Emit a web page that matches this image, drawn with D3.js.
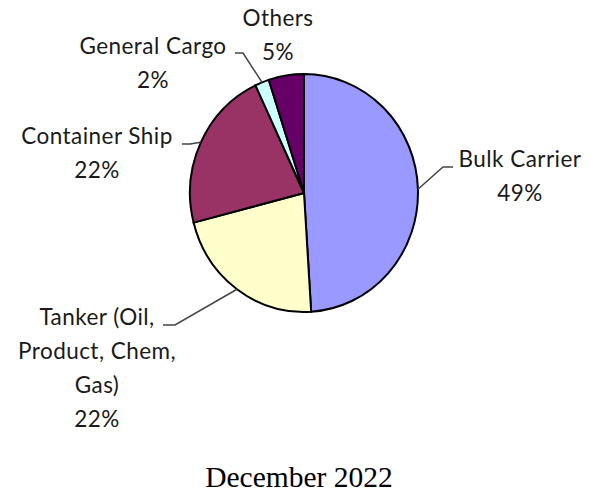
<!DOCTYPE html>
<html>
<head>
<meta charset="utf-8">
<script src="https://cdn.jsdelivr.net/npm/d3@7"></script>
<style>
  body { margin: 0; background: #fff; }
  .lbl { font-family: Lato, "Open Sans", sans-serif; font-size: 22.5px; letter-spacing: 0.45px; fill: #1a1a1a; }
  .title { font-family: "Liberation Serif", "Times New Roman", serif; font-size: 29.5px; fill: #000; }
</style>
</head>
<body>
<div id="vis"></div>
<script>
// chart data
const CATEGORIES = ["Bulk Carrier", "Tanker (Oil, Product, Chem, Gas)", "Container Ship", "General Cargo", "Others"];
const SHARES = [49, 22, 22, 2, 5];
const COLORS = ["#9999ff", "#ffffcc", "#993366", "#ccffff", "#660066"];
const TITLE = "December 2022";

// label lines (text split as shown in the picture)
const LABEL_LINES = [
  ["Bulk Carrier", "49%"],
  ["Tanker (Oil,", "Product, Chem,", "Gas)", "22%"],
  ["Container Ship", "22%"],
  ["General Cargo", "2%"],
  ["Others", "5%"]
];

const WIDTH = 595, HEIGHT = 497;
const CX = 304, CY = 193, RX = 114, RY = 119;
const LINE_H = 34;

// label anchor (centre x, first baseline) and leader elbow/end for each slice
const LAYOUT = [
  {x: 520, y: 167, elbow: [443, 167], end: [453, 167]},
  {x: 97,  y: 325, elbow: [175, 325], end: [163, 325]},
  {x: 97,  y: 144, elbow: [190, 144], end: [182, 144]},
  {x: 153, y: 54,  elbow: [243, 53],  end: [235, 53]},
  {x: 278, y: 26,  elbow: null, end: null}
];

const svg = d3.select("#vis")
              .append("svg")
              .attr("width", WIDTH)
              .attr("height", HEIGHT);

const data = CATEGORIES.map((c, i) => ({name: c, value: SHARES[i], color: COLORS[i], idx: i}));

const pie = d3.pie()
              .sort(null)
              .value(d => d.value);

const arcs = pie(data);

const arc = d3.arc()
              .innerRadius(0)
              .outerRadius(RX);

// pie slices (slightly taller than wide like the original)
const G = svg.append("g")
             .attr("transform", "translate(" + CX + "," + CY + ") scale(1," + (RY / RX) + ")");

G.selectAll("path")
 .data(arcs)
 .enter()
 .append("path")
 .attr("d", arc)
 .attr("fill", d => d.data.color)
 .attr("stroke", "#000")
 .attr("stroke-width", 2)
 .attr("vector-effect", "non-scaling-stroke");

// leader lines
arcs.forEach((a, i) => {
  const L = LAYOUT[i];
  if (!L.elbow) return;
  const mid = (a.startAngle + a.endAngle) / 2;
  const px = CX + RX * Math.sin(mid);
  const py = CY - RY * Math.cos(mid);
  svg.append("polyline")
     .attr("points", [[px, py], L.elbow, L.end].map(p => p.join(",")).join(" "))
     .attr("fill", "none")
     .attr("stroke", "#444")
     .attr("stroke-width", 1.5);
});

// labels
arcs.forEach((a, i) => {
  const L = LAYOUT[i];
  const t = svg.append("text")
               .attr("class", "lbl")
               .attr("text-anchor", "middle");
  LABEL_LINES[i].forEach((s, k) => {
    t.append("tspan")
     .attr("x", L.x)
     .attr("y", L.y + k * LINE_H)
     .text(s);
  });
});

// title
svg.append("text")
   .attr("class", "title")
   .attr("x", 299)
   .attr("y", 487)
   .attr("text-anchor", "middle")
   .text(TITLE);
</script>
</body>
</html>
